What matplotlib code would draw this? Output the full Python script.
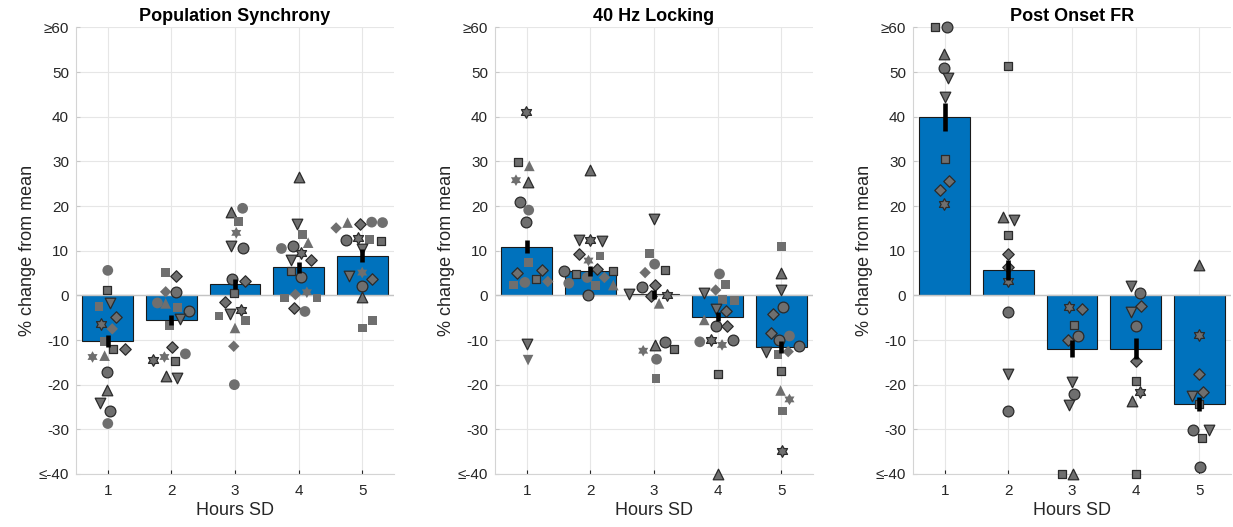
import matplotlib
matplotlib.use('Agg')
import matplotlib.pyplot as plt
import numpy as np
from matplotlib.path import Path

plt.rcParams['font.family'] = ['Liberation Sans', 'DejaVu Sans']

hours = [1, 2, 3, 4, 5]
yticks = [-40, -30, -20, -10, 0, 10, 20, 30, 40, 50, 60]
ytick_labels = ['\u2264-40', '-30', '-20', '-10', '0', '10', '20', '30', '40', '50', '\u226560']
titles = ['Population Synchrony', '40 Hz Locking', 'Post Onset FR']

# ---- Population Synchrony ----
sync_mean = [-10.2, -5.5, 2.5, 6.3, 8.9]
sync_sem = [1.4, 1.15, 1.15, 1.2, 1.5]
sync_x = [1.00, 0.99, 1.03, 0.86, 1.13, 0.89, 1.07, 0.95, 1.08, 1.27, 0.76, 0.95, 0.99, 0.99, 0.88, 1.03, 1.00,
          1.91, 2.07, 1.91, 1.91, 2.07, 1.78, 2.09, 2.27, 2.13, 1.97, 2.01, 1.71, 1.89, 2.06, 2.22, 1.91, 2.09,
          2.94, 3.12, 3.06, 3.02, 2.93, 3.12, 2.96, 3.15, 2.99, 2.85, 2.92, 3.09, 2.75, 3.17, 3.00, 2.98, 2.99,
          4.00, 3.98, 4.06, 4.15, 3.73, 3.91, 4.04, 3.88, 4.20, 3.88, 4.04, 3.95, 4.13, 3.78, 4.29, 3.92, 4.10,
          4.59, 4.77, 4.96, 5.15, 5.32, 4.74, 4.93, 5.11, 5.30, 5.00, 4.80, 5.00, 5.16, 5.00, 5.00, 5.16, 5.00]
sync_y = [5.6, 1.3, -1.7, -2.5, -4.9, -6.3, -7.5, -10.3, -11.9, -11.9, -13.8, -13.5, -17.2, -21.1, -24.1, -25.8, -28.7,
          5.2, 4.3, 0.8, -1.8, 0.7, -1.7, -2.8, -3.6, -5.4, -6.8, -11.6, -14.4, -13.8, -14.6, -13.1, -18.0, -18.5,
          18.7, 19.5, 16.5, 14.0, 11.1, 10.5, 3.7, 3.3, 0.5, -1.5, -4.1, -3.2, -4.6, -5.6, -7.3, -11.4, -20.0,
          26.6, 15.9, 13.6, 11.8, 10.5, 11.0, 9.4, 8.0, 7.9, 5.4, 4.2, 0.2, 0.7, -0.6, -0.6, -2.8, -3.6,
          15.1, 16.3, 15.9, 16.4, 16.3, 12.4, 12.9, 12.5, 12.2, 10.3, 4.3, 5.1, 3.7, 2.1, -0.3, -5.7, -7.3]
sync_mk = "osvsdhdssdh^o^voo" + "sdd^oosovsdhhso^v" + "^oshvoodsdvhss^do" + "^vs^oohvdsodhssdo" + "d^dooohssvvhdo^ss"
sync_edge = "01101100110011110" + "01001001101101011" + "10001111111100000" + "11000111111000010" + "00100110111011100"

# ---- 40 Hz Locking ----
lock_mean = [10.9, 5.5, 0.2, -4.8, -11.5]
lock_sem = [1.5, 1.1, 1.0, 1.0, 1.3]
lock_x = [0.98, 0.86, 1.04, 0.83, 1.02, 0.89, 1.03, 0.99, 1.03, 0.85, 1.24, 0.97, 1.15, 1.33, 0.79, 1.01, 1.02,
          2.00, 1.82, 2.00, 2.18, 1.82, 2.15, 1.97, 2.11, 1.59, 1.77, 2.36, 1.66, 1.95, 2.22, 2.08, 2.36, 1.97,
          3.00, 2.93, 3.01, 2.86, 3.18, 2.81, 3.01, 2.61, 2.96, 3.20, 3.08, 2.83, 3.01, 3.18, 3.32, 3.04, 3.03,
          4.03, 3.79, 3.97, 4.13, 4.08, 4.26, 3.97, 4.14, 3.79, 3.97, 4.15, 3.72, 3.90, 4.07, 4.24, 4.00, 4.00,
          5.00, 5.00, 5.00, 5.03, 4.87, 4.84, 5.13, 4.97, 4.76, 4.95, 5.11, 5.28, 5.00, 4.99, 5.13, 5.02, 5.01]
lock_y = [41.0, 29.8, 29.0, 25.8, 25.4, 21.0, 19.1, 16.5, 7.3, 4.9, 5.7, 2.9, 3.6, 3.1, 2.3, -10.9, -14.5,
          28.1, 12.4, 12.4, 12.2, 9.2, 8.8, 7.8, 5.9, 5.5, 4.8, 5.5, 2.7, 4.0, 4.0, 2.2, 2.3, 0.1,
          17.1, 9.3, 7.0, 5.1, 5.7, 1.8, 2.3, 0.3, -0.1, 0.1, -1.8, -12.4, -11.1, -10.4, -12.1, -14.3, -18.6,
          4.8, 0.6, 1.2, 2.5, -1.0, -1.2, -3.1, -3.4, -5.5, -6.9, -6.9, -10.4, -10.0, -11.1, -10.0, -17.5, -40,
          10.9, 5.1, 1.3, -2.5, -4.2, -8.5, -9.1, -10.1, -12.6, -13.2, -12.6, -11.3, -16.9, -21.3, -23.3, -25.9, -34.8]
lock_mk = "hs^h^ooosddosdsvv" + "^vhvdshdossoods^o" + "vsodsodvdh^h^osos" + "ovdsssvd^odohhos^" + "s^voddoovsdos^hsh"
lock_edge = "11001101011010010" + "11111001111000001" + "10001111110011100" + "01000011011010111" + "01111101100110001"

# ---- Post Onset FR ----
fr_mean = [40.0, 5.7, -11.9, -11.9, -24.3]
fr_sem = [3.1, 2.2, 1.8, 2.4, 1.6]
fr_x = [0.85, 1.04, 0.98, 0.98, 1.05, 1.00, 1.00, 1.06, 0.93, 0.99,
        2.00, 1.91, 2.09, 2.00, 2.00, 2.00, 2.00, 2.00, 2.00, 2.00,
        2.96, 3.15, 3.03, 2.93, 3.10, 3.00, 3.03, 2.95, 2.85, 3.02,
        3.93, 4.07, 4.09, 3.93, 4.00, 4.00, 4.00, 4.07, 3.94, 4.00,
        5.00, 5.00, 5.00, 5.06, 4.88, 5.00, 4.90, 5.15, 5.04, 5.01]
fr_y = [60, 60, 54.0, 51.0, 48.6, 44.5, 30.5, 25.7, 23.7, 20.4,
        51.3, 17.6, 16.9, 13.5, 9.2, 6.4, 3.3, -3.7, -17.5, -25.8,
        -2.6, -3.1, -6.6, -9.9, -9.0, -19.5, -22.1, -24.6, -40, -40,
        2.0, 0.5, -2.3, -3.8, -6.9, -14.8, -19.1, -21.7, -23.6, -40,
        6.9, -8.8, -17.5, -21.6, -22.5, -24.3, -30.1, -30.1, -31.9, -38.4]
fr_mk = "so^ovvsddh" + "s^vsddhovo" + "hdsdovovs^" + "vodvodsh^s" + "^hddvsovso"
fr_edge = "1" * 50

hexagram = Path.unit_regular_star(6, 0.577)
mk_map = {'o': 'o', 's': 's', 'd': 'D', '^': '^', 'v': 'v', 'h': hexagram}
mk_size = {'o': 60, 's': 40, 'd': 34, '^': 58, 'v': 58, 'h': 70}

panels = [(sync_mean, sync_sem, sync_x, sync_y, sync_mk, sync_edge),
          (lock_mean, lock_sem, lock_x, lock_y, lock_mk, lock_edge),
          (fr_mean, fr_sem, fr_x, fr_y, fr_mk, fr_edge)]
lefts = [76 / 1233, 495 / 1233, 913 / 1233]

fig = plt.figure(figsize=(12.33, 5.27), dpi=100)
for i in range(3):
    means, sems, px, py, pm, pe = panels[i]
    ax = fig.add_axes([lefts[i], 0.1006, 0.2579, 0.8473])
    ax.bar(hours, means, width=0.8, color='#0072BD', edgecolor='#1a1a1a', linewidth=0.8, zorder=2)
    ax.axhline(0, color='#c4c4c4', lw=1, zorder=2.1)
    py = np.clip(np.array(py, dtype=float), -40, 60)
    for j in range(len(px)):
        m = pm[j]
        if pe[j] == '1':
            ec, lw = '#2b2b2b', 0.9
        else:
            ec, lw = 'none', 0
        ax.scatter(px[j], py[j], marker=mk_map[m], s=mk_size[m], facecolor='#6f6f6f',
                   edgecolor=ec, linewidths=lw, zorder=3, clip_on=False)
    m_arr = np.array(means)
    s_arr = np.array(sems)
    ax.vlines(hours, m_arr - s_arr, m_arr + s_arr, color='k', lw=3.3, zorder=4)

    ax.set_xlim(0.5, 5.5)
    ax.set_ylim(-40, 60)
    ax.set_xticks(hours)
    ax.set_yticks(yticks)
    ax.set_yticklabels(ytick_labels)
    ax.grid(True, color='#e6e6e6', lw=0.8)
    ax.set_axisbelow(True)
    for sp in ['top', 'right']:
        ax.spines[sp].set_visible(False)
    for sp in ['left', 'bottom']:
        ax.spines[sp].set_color('#d4d4d4')
        ax.spines[sp].set_linewidth(0.8)
    ax.tick_params(axis='x', direction='in', length=3, color='#262626', labelsize=11,
                   labelcolor='#262626', pad=7)
    ax.tick_params(axis='y', direction='in', length=3, color='#c8c8c8', labelsize=11,
                   labelcolor='#262626', pad=5)
    ax.set_title(titles[i], fontsize=13, fontweight='bold', pad=5)
    ax.set_xlabel('Hours SD', fontsize=13, color='#262626', labelpad=3)
    ax.set_ylabel('% change from mean', fontsize=13, color='#262626', labelpad=2)

fig.savefig('out.png', dpi=100)
